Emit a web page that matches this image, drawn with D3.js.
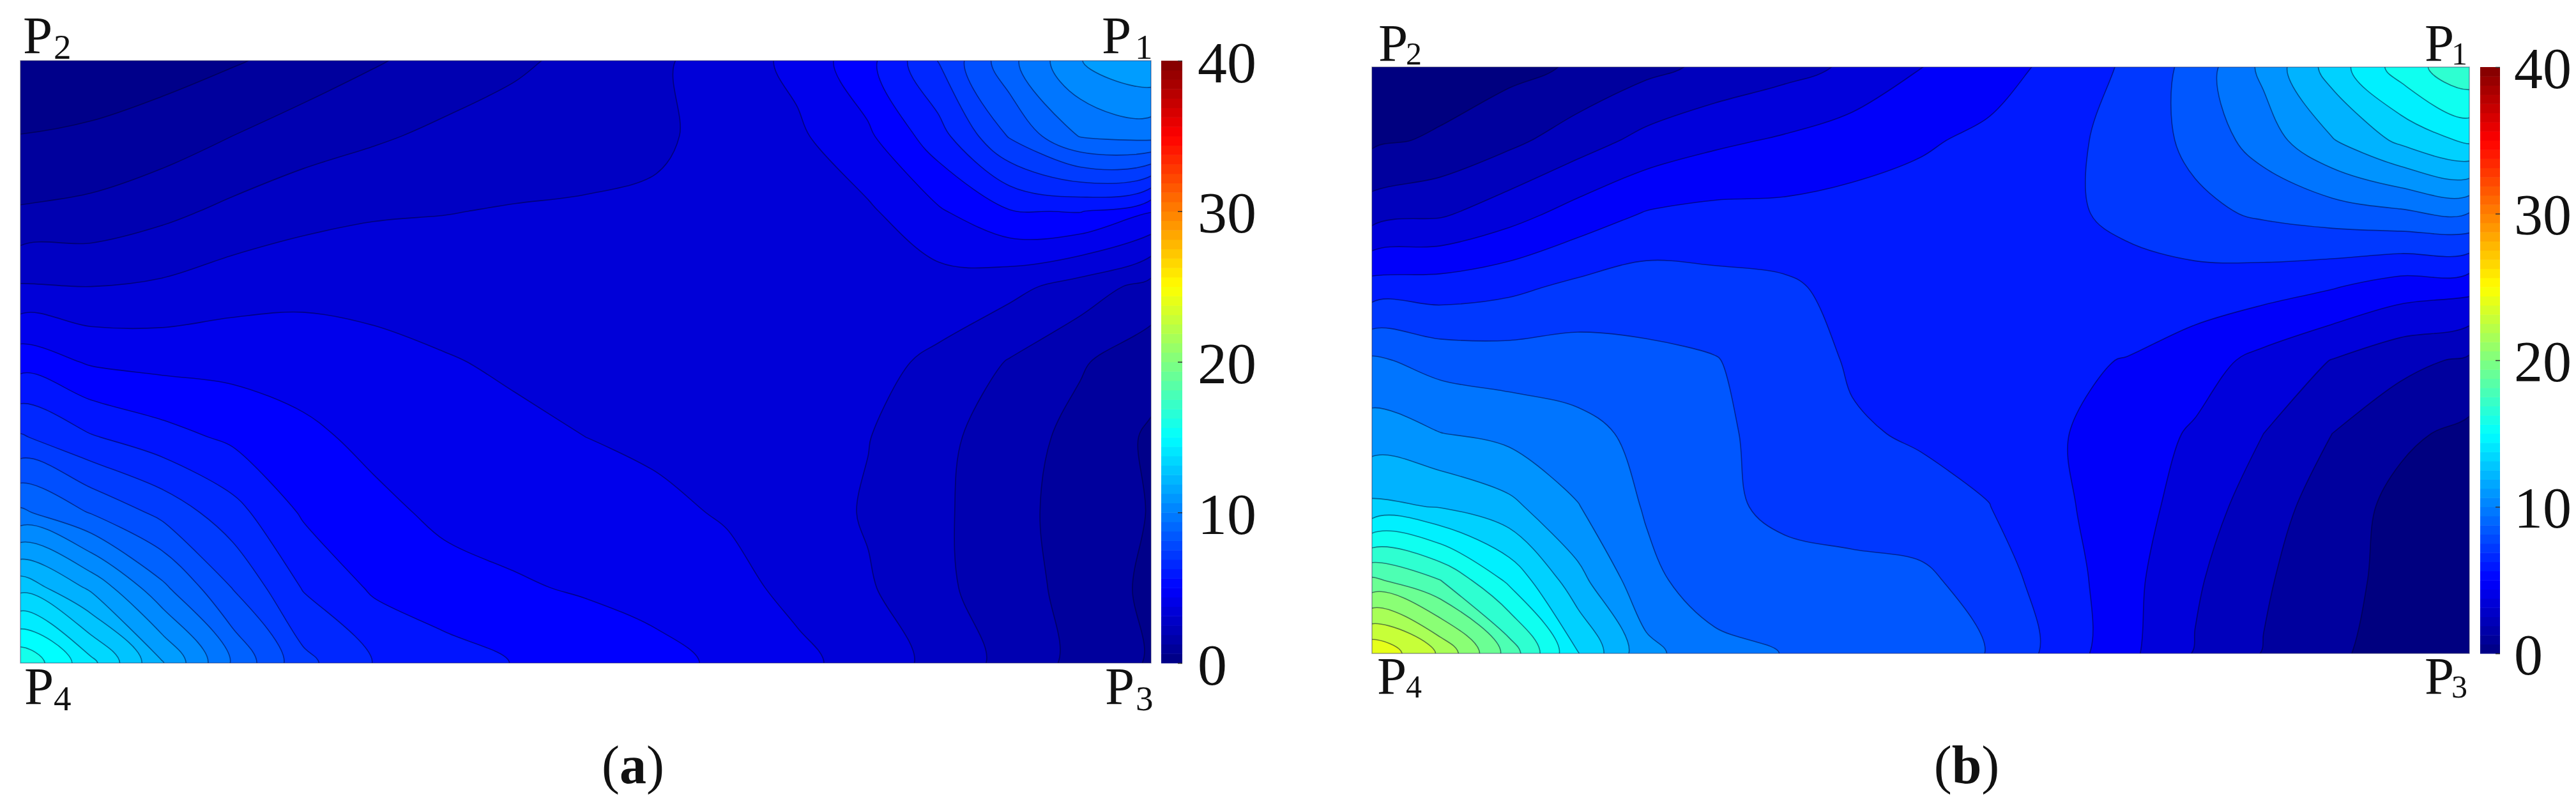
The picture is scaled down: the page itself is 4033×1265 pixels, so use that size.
<!DOCTYPE html>
<html>
<head>
<meta charset="utf-8">
<title>Contour maps (a) and (b)</title>
<script src="https://cdn.jsdelivr.net/npm/d3@7"></script>
<style>
  html, body { margin: 0; padding: 0; background: #fff; }
  svg { display: block; }
  text { font-family: "Liberation Serif", serif; fill: #111; }
</style>
</head>
<body>
<svg id="chart" width="4033" height="1265"></svg>
<script>
// readings, in contour intervals (17 columns P2->P1, 9 rows P2->P4)
const gridA = [
  [0.2, 0.4, 0.6, 0.9, 1.35, 1.9, 2.38, 2.82, 3.3, 3.83, 4.46, 5.28, 6.7, 9.05, 11.7, 13.97, 14.9],
  [1.02, 1.15, 1.44, 2.0, 2.5, 2.86, 3.21, 3.47, 3.65, 3.85, 4.31, 4.83, 5.84, 7.6, 10.1, 12.07, 12.35],
  [2.09, 2.27, 2.73, 3.24, 3.65, 3.89, 3.97, 4.06, 4.1, 4.15, 4.25, 4.5, 4.85, 5.88, 6.93, 7.05, 6.05],
  [4.08, 4.0, 4.16, 4.54, 4.72, 4.7, 4.54, 4.42, 4.4, 4.4, 4.35, 4.35, 4.45, 4.58, 4.3, 3.57, 2.62],
  [6.6, 5.88, 5.7, 5.66, 5.54, 5.28, 5.07, 4.85, 4.65, 4.5, 4.4, 4.35, 4.3, 3.8, 2.93, 2.1, 1.41],
  [9.12, 8.09, 7.39, 6.8, 6.23, 5.74, 5.43, 5.22, 5.0, 4.8, 4.55, 4.3, 4.03, 3.28, 2.43, 1.7, 0.85],
  [12.2, 10.93, 9.72, 8.38, 6.87, 6.26, 5.79, 5.63, 5.48, 5.23, 4.9, 4.5, 3.9, 3.2, 2.3, 1.6, 0.95],
  [16.7, 14.8, 12.25, 9.97, 7.93, 6.85, 6.36, 6.1, 5.9, 5.7, 5.35, 4.7, 4.1, 3.25, 2.35, 1.7, 0.75],
  [20.9, 18.3, 15.1, 11.9, 9.3, 7.97, 7.46, 6.96, 6.6, 6.25, 5.84, 5.26, 4.56, 3.7, 2.65, 1.7, 0.9]
];
const gridB = [
  [0.1, 0.4, 0.7, 1.12, 1.72, 2.23, 2.65, 3.15, 3.98, 4.58, 5.26, 6.15, 7.36, 9.24, 11.45, 13.47, 14.8],
  [0.8, 1.15, 1.75, 2.52, 3.3, 3.8, 4.12, 4.53, 4.88, 5.2, 5.72, 6.33, 7.28, 8.49, 9.93, 11.22, 12.2],
  [2.52, 2.85, 3.59, 4.4, 5.07, 5.27, 5.26, 5.35, 5.4, 5.5, 5.78, 6.24, 6.74, 7.15, 7.48, 7.78, 7.95],
  [5.43, 5.47, 5.76, 6.23, 6.52, 6.3, 6.16, 5.7, 5.55, 5.5, 5.6, 5.6, 5.59, 5.42, 5.07, 4.51, 4.33],
  [8.16, 7.62, 7.46, 7.48, 7.2, 7.05, 6.48, 5.9, 5.65, 5.45, 5.15, 4.97, 4.45, 3.7, 2.97, 2.32, 1.82],
  [9.45, 9.02, 8.71, 8.29, 7.75, 7.2, 6.63, 6.1, 5.9, 5.65, 5.1, 4.5, 3.88, 3.0, 2.0, 1.2, 0.75],
  [11.2, 10.95, 10.27, 9.05, 7.9, 7.2, 6.8, 6.55, 6.3, 6.02, 5.2, 4.45, 3.55, 2.43, 1.52, 0.7, 0.5],
  [16.2, 15.0, 12.78, 10.33, 8.26, 7.46, 7.33, 7.33, 7.25, 6.45, 5.55, 4.33, 3.14, 2.13, 1.32, 0.7, 0.55],
  [20.9, 18.85, 15.6, 12.05, 9.3, 8.3, 7.98, 7.97, 7.7, 6.95, 5.63, 4.27, 2.93, 1.95, 1.2, 0.5, 0.3]
];

// colour-bar value of one contour interval
const intervalA = 0.77;
const intervalB = 1.2;
const contourLevels = [1, 2, 3, 4, 5, 6, 7, 8, 9, 10, 11, 12, 13, 14, 15, 16, 17, 18, 19, 20];

const colorbarTicks = [0, 10, 20, 30, 40];
const jetStops = [0, 5, 15, 25, 35, 40];
const jetColors = ['#000080', '#0000ff', '#00ffff', '#ffff00', '#ff0000', '#800000'];

const svg = d3.select('#chart');
const jet = d3.scaleLinear().domain(jetStops).range(jetColors).clamp(true);

const panels = [
  {
    id: 'a', grid: gridA, interval: intervalA, bandShift: 0.5,
    left: 32, right: 1802, top: 95, bottom: 1038,
    barLeft: 1818, barRight: 1851, tickFont: 92, tickPad: 24,
    subFont: 55, capX: 991,
    labels: [
      { n: '1', x: 1725, y: 83, sx: 1777, sy: 92 },
      { n: '2', x: 36, y: 83, sx: 84, sy: 92 },
      { n: '3', x: 1730, y: 1102, sx: 1778, sy: 1112 },
      { n: '4', x: 38, y: 1102, sx: 84, sy: 1112 }
    ]
  },
  {
    id: 'b', grid: gridB, interval: intervalB, bandShift: 0,
    left: 2148, right: 3866, top: 105, bottom: 1023,
    barLeft: 3883, barRight: 3914, tickFont: 90, tickPad: 22,
    subFont: 50, capX: 3079,
    labels: [
      { n: '1', x: 3796, y: 95, sx: 3838, sy: 101 },
      { n: '2', x: 2158, y: 95, sx: 2201, sy: 101 },
      { n: '3', x: 3796, y: 1086, sx: 3838, sy: 1092 },
      { n: '4', x: 2156, y: 1086, sx: 2201, sy: 1092 }
    ]
  }
];

const drawPanel = (p) => {
  const rows = p.grid.length;
  const cols = p.grid[0].length;
  const g = svg.append('g').attr('class', 'panel-' + p.id);
  const bandColor = level => jet((level + p.bandShift) * p.interval);

  // d3.contours puts node i at i + 0.5, so the outer nodes land on the plot edge
  const x = d3.scaleLinear().domain([0.5, cols - 0.5]).range([p.left, p.right]);
  const y = d3.scaleLinear().domain([0.5, rows - 0.5]).range([p.top, p.bottom]);

  g.append('clipPath').attr('id', 'clip-' + p.id)
    .append('rect')
    .attr('x', p.left).attr('y', p.top)
    .attr('width', p.right - p.left).attr('height', p.bottom - p.top);

  const plot = g.append('g').attr('clip-path', `url(#clip-${p.id})`);

  plot.append('rect')
    .attr('x', p.left).attr('y', p.top)
    .attr('width', p.right - p.left).attr('height', p.bottom - p.top)
    .attr('fill', bandColor(0));

  const bands = d3.contours()
    .size([cols, rows])
    .smooth(true)
    .thresholds(contourLevels)(p.grid.flat());

  const ringLine = d3.line()
    .x(d => x(d[0]))
    .y(d => y(d[1]))
    .curve(d3.curveCatmullRomClosed.alpha(0.5));

  plot.selectAll('path.band')
    .data(bands.filter(b => b.coordinates.length))
    .join('path')
    .attr('class', 'band')
    .attr('d', b => b.coordinates
      .flatMap(poly => poly.map(ring => ringLine(ring.slice(0, -1))))
      .join(''))
    .attr('fill', b => bandColor(b.value))
    .attr('stroke', '#00002a')
    .attr('stroke-opacity', 0.5)
    .attr('stroke-width', 1.6);

  // thin frame round the plot
  g.append('rect')
    .attr('x', p.left).attr('y', p.top)
    .attr('width', p.right - p.left).attr('height', p.bottom - p.top)
    .attr('fill', 'none')
    .attr('stroke', '#222255')
    .attr('stroke-opacity', 0.45)
    .attr('stroke-width', 1.5);

  // colour bar
  const barScale = d3.scaleLinear().domain([0, 40]).range([p.bottom, p.top]);
  const barStep = 0.625;
  g.append('g').selectAll('rect')
    .data(d3.range(0, 40, barStep))
    .join('rect')
    .attr('x', p.barLeft)
    .attr('width', p.barRight - p.barLeft)
    .attr('y', d => barScale(d + barStep))
    .attr('height', d => barScale(d) - barScale(d + barStep) + 0.5)
    .attr('fill', d => jet(d + barStep / 2));

  const axis = d3.axisRight(barScale)
    .tickValues(colorbarTicks)
    .tickSize(-7)
    .tickPadding(p.tickPad)
    .tickFormat(d3.format('d'));

  const axisG = g.append('g')
    .attr('transform', `translate(${p.barRight},0)`)
    .call(axis);
  axisG.select('.domain').remove();
  axisG.selectAll('.tick line').attr('stroke', '#333').attr('stroke-width', 1.5);
  axisG.selectAll('.tick text')
    .attr('font-size', p.tickFont)
    .attr('font-family', '"Liberation Serif", serif')
    .attr('fill', '#222')
    .attr('dy', '0.36em');

  // corner labels
  p.labels.forEach(l => {
    g.append('text').attr('x', l.x).attr('y', l.y).attr('font-size', 83).text('P');
    g.append('text').attr('x', l.sx).attr('y', l.sy).attr('font-size', p.subFont).text(l.n);
  });

  // caption
  const cap = g.append('text')
    .attr('x', p.capX).attr('y', 1226)
    .attr('font-size', 84)
    .attr('text-anchor', 'middle');
  cap.append('tspan').text('(');
  cap.append('tspan').attr('font-weight', 'bold').text(p.id);
  cap.append('tspan').text(')');
};

panels.forEach(drawPanel);
</script>
</body>
</html>
